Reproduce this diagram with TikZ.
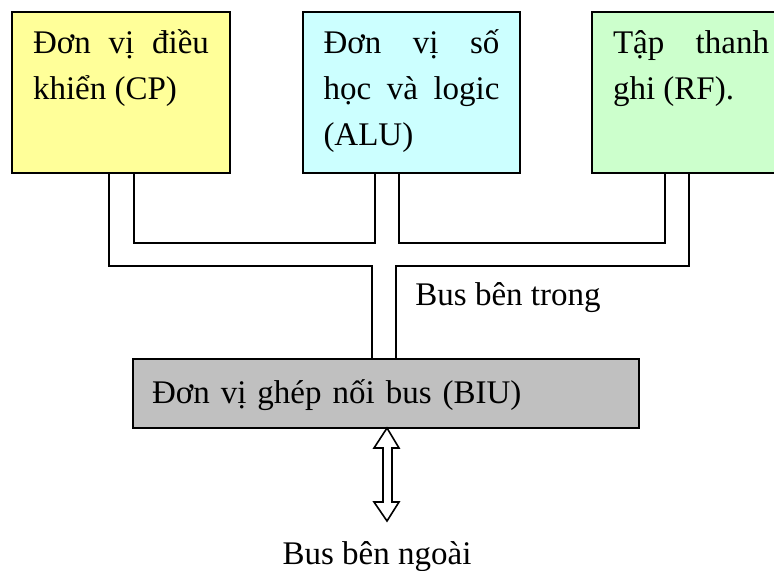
\documentclass[tikz,border=0pt]{standalone}
\usepackage{fontspec}
\setmainfont{Liberation Serif}
\usetikzlibrary{calc}
\definecolor{cpyellow}{RGB}{255,255,153}
\definecolor{alucyan}{RGB}{204,255,255}
\definecolor{rfgreen}{RGB}{204,255,204}
\definecolor{biugray}{RGB}{192,192,192}

\begin{document}
\begin{tikzpicture}[x=0.5pt,y=-0.5pt,
        every node/.style={font=\fontsize{16.5}{23}\selectfont},
        unit/.style={draw, line width=1pt, anchor=north west, outer sep=0pt, align=justify,
            inner ysep=8pt, text height=12.5pt, text depth=52pt},
        bus/.style={line width=0.8pt}]
        \clip (0,0) rectangle (774,570);
        % the three units
        \node[unit, fill=cpyellow, text width=88pt, inner xsep=10.5pt] (cp) at (12,12)
            {Đơn vị điều\break khiển (CP)};
        \node[unit, fill=alucyan, text width=88pt, inner xsep=9.5pt, minimum width=108.5pt] (alu) at (303,12)
            {Đơn vị số\break học và logic\break (ALU)};
        \node[unit, fill=rfgreen, text width=78pt, inner xsep=10.5pt] (rf) at (592,12)
            {Tập thanh\break ghi (RF).};
        \node[draw, line width=1pt, fill=biugray, anchor=north west, outer sep=0pt,
            text width=234pt, inner xsep=9.5pt, inner ysep=8pt, text height=14pt, text depth=4.5pt]
            (biu) at (133,359) {Đơn vị ghép nối bus (BIU)};
        % internal bus
        \draw[bus] ($(cp.south west)+(122,0)$) -- ++(0,70) -| ($(alu.south west)+(72,0)$);
        \draw[bus] ($(alu.south west)+(96,0)$) -- ++(0,70) -| ($(rf.south west)+(73,0)$);
        \draw[bus] ($(cp.south west)+(97,0)$) -- ++(0,93) -| ($(biu.north west)+(239,0)$);
        \draw[bus] ($(rf.south west)+(97,0)$) -- ++(0,93) -| ($(biu.north west)+(263,0)$);
        \node[anchor=base west, inner sep=0pt] (int) at (415,305) {Bus bên trong};
        % external bus
        \draw[bus, fill=white] ($(biu.south west)+(254,0)$) -- ++(12,20) -- ++(-7,0) -- ++(0,54)
            -- ++(7,0) -- ++(-12,19) -- ++(-13,-19) -- ++(9,0) -- ++(0,-54) -- ++(-9,0) -- cycle;
        \node[anchor=base] (ext) at (377,564) {Bus bên ngoài};
\end{tikzpicture}
\end{document}
